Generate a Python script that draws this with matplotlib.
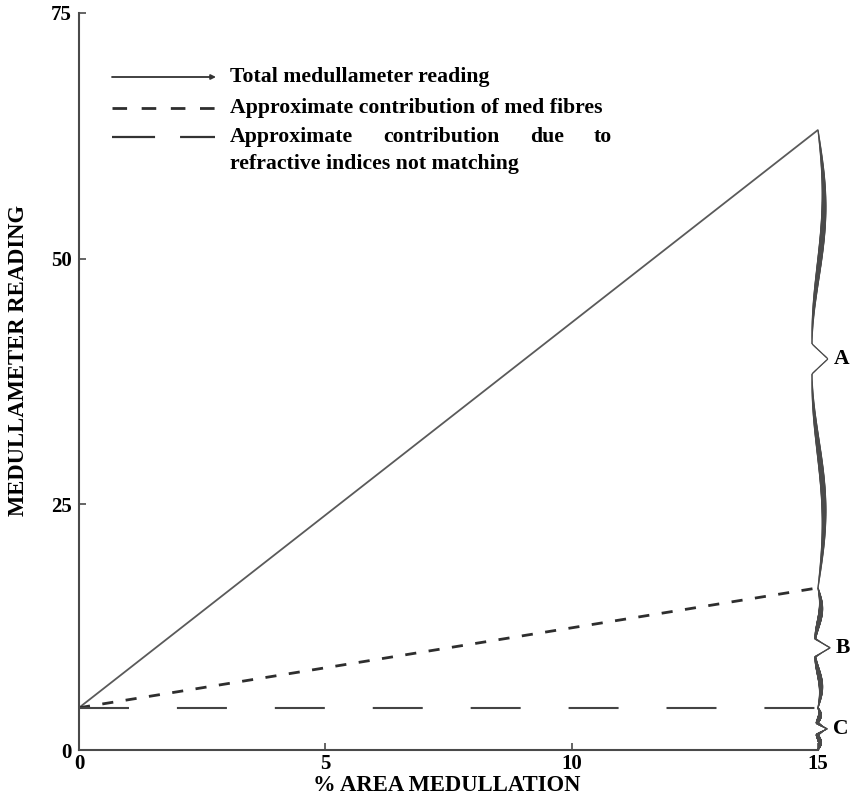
import numpy as np
import matplotlib
matplotlib.use("Agg")
import matplotlib.pyplot as plt
from matplotlib.collections import LineCollection

plt.rcParams['font.family'] = ['Liberation Serif', 'DejaVu Serif']
plt.rcParams['font.weight'] = 'bold'
plt.rcParams['axes.labelweight'] = 'bold'
plt.rcParams['lines.scale_dashes'] = False

# Readings against % area medullation
area_pct = [0, 15]
total_reading = [4.3, 63.1]
med_fibres = [4.3, 16.5]
refractive = [4.3, 4.3]

x_ticks = [0, 5, 10, 15]
y_ticks = [0, 25, 50, 75]

legend_labels = ["Total medullameter reading",
                 "Approximate contribution of med fibres",
                 "Approximate contribution due to",
                 "refractive indices not matching"]
brace_labels = ["A", "B", "C"]

INK = '#4a4a4a'
W, H = 861, 799
fig = plt.figure(figsize=(W / 100, H / 100), dpi=100)
ax_l, ax_r, ax_b, ax_t = 79, 818, 750, 13
ax = fig.add_axes([ax_l / W, 1 - ax_b / H, (ax_r - ax_l) / W, (ax_b - ax_t) / H])
ax.set_xlim(0, 15)
ax.set_ylim(0, 75)
for s in ('top', 'right'):
    ax.spines[s].set_visible(False)
for s in ('left', 'bottom'):
    ax.spines[s].set_color(INK)
    ax.spines[s].set_linewidth(1.5)

ax.set_xticks(x_ticks)
ax.set_yticks(y_ticks)
ax.tick_params(direction='in', length=5, width=1.2, color=INK, labelsize=15, pad=5)
ax.tick_params(axis='x', pad=3)
ax.set_xlabel("% AREA MEDULLATION", fontsize=16.3)
ax.set_ylabel("MEDULLAMETER READING", fontsize=16.3)
for lbl in (ax.xaxis.label, ax.yaxis.label):
    lbl.set_horizontalalignment('center')
    lbl.set_verticalalignment('center')
ax.xaxis.set_label_coords(0.498, -0.0488)
ax.yaxis.set_label_coords(-0.0825, 0.529)

ax.plot(area_pct, total_reading, color='#5a5a5a', lw=1.3, solid_capstyle='butt')
ax.plot(area_pct, med_fibres, color='#2e2e2e', lw=2.0, dashes=(8, 9))
ax.plot(area_pct, refractive, color='#444444', lw=1.5, dashes=(36, 34.5))

# pixel -> data scale factors
px_x = 15 / (ax_r - ax_l)
px_y = 75 / (ax_b - ax_t)


def brace(x, y_lo, y_hi, amp, tip, ramp_px, wmax):
    n = 400
    u = np.linspace(0, 1, n)
    half = (y_hi - y_lo) / px_y / 2
    s = 1 - np.abs(2 * u - 1)
    ramp = ramp_px / half
    off = amp * np.sin(1.6 * np.pi * s) + tip * np.clip(1 - (1 - s) / ramp, 0, None)
    xs = x + off * px_x
    ys = y_hi - u * (y_hi - y_lo)
    pts = np.column_stack([xs, ys]).reshape(-1, 1, 2)
    segs = np.concatenate([pts[:-1], pts[1:]], axis=1)
    sm = 0.5 * (s[:-1] + s[1:])
    widths = 0.9 + wmax * np.sin(np.pi * np.clip(sm / 0.92, 0, 1)) ** 1.2
    lc = LineCollection(segs, colors=INK, linewidths=widths, capstyle='round',
                        clip_on=False)
    ax.add_collection(lc)
    tip_x = x + (amp * np.sin(1.6 * np.pi) + tip) * px_x
    return tip_x, 0.5 * (y_lo + y_hi)


spans = [(med_fibres[1], total_reading[1], 6, 15.7, 15, 3.0),
         (refractive[1], med_fibres[1], 3, 15.0, 9, 2.5),
         (0, refractive[1], 2, 11.0, 6, 2.0)]
for lab, (lo, hi, amp, tip, rp, wm) in zip(brace_labels, spans):
    tx, ty = brace(15, lo, hi, amp, tip, rp, wm)
    ax.text(tx + 6 * px_x, ty, lab, fontsize=15.5, va='center', ha='left',
            clip_on=False)


def axpt(px, py):
    return ((px - ax_l) / (ax_r - ax_l), (ax_b - py) / (ax_b - ax_t))


tr = ax.transAxes
# legend samples
ax.annotate('', xy=axpt(216, 77), xytext=axpt(112, 77), xycoords=tr, textcoords=tr,
            arrowprops=dict(arrowstyle='-|>', lw=1.3, color='#333333',
                            mutation_scale=7, shrinkA=0, shrinkB=0))
x0, y0 = axpt(112, 108)
x1, _ = axpt(215, 108)
ax.plot([x0, x1], [y0, y0], transform=tr, color='#2e2e2e', lw=2.0, dashes=(10.5, 10.5))
x0, y0 = axpt(112, 137)
ax.plot([x0, x1], [y0, y0], transform=tr, color='#333333', lw=1.6, dashes=(31, 18))

tx0, _ = axpt(230, 0)
rows_y = [77, 108, 137, 164]
fs = 15.7
ax.text(tx0, axpt(0, rows_y[0])[1], legend_labels[0], transform=tr, fontsize=fs, va='center')
ax.text(tx0, axpt(0, rows_y[1])[1], legend_labels[1], transform=tr, fontsize=fs, va='center')
ax.text(tx0, axpt(0, rows_y[3])[1], legend_labels[3], transform=tr, fontsize=fs, va='center')

# justified line: spread words between left edge and right edge of line 2
fig.canvas.draw()
rend = fig.canvas.get_renderer()
words = legend_labels[2].split()
left_px, right_px = 230, 612
word_objs = [ax.text(0, 0, w, fontsize=fs, transform=None) for w in words]
widths = [t.get_window_extent(rend).width for t in word_objs]
for t in word_objs:
    t.remove()
gap = (right_px - left_px - sum(widths)) / (len(words) - 1)
cur = left_px
yy = axpt(0, rows_y[2])[1]
for w, wd in zip(words, widths):
    ax.text((cur - ax_l) / (ax_r - ax_l), yy, w, transform=tr, fontsize=fs, va='center')
    cur += wd + gap

fig.savefig("out.png", dpi=100)
